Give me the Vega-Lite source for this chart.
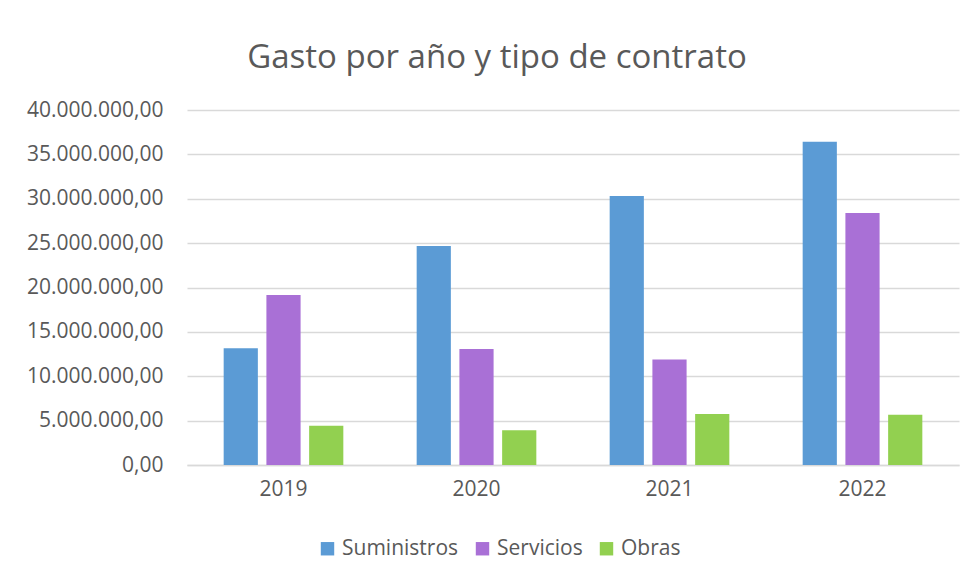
{
  "$schema": "https://vega.github.io/schema/vega-lite/v6.json",
  "width": 772,
  "height": 355,
  "autosize": {"type": "none"},
  "padding": {"left": 187, "top": 110, "right": 14, "bottom": 112},
  "background": "white",
  "config": {
    "locale": {"number": {"decimal": ",", "thousands": ".", "grouping": [3], "currency": ["", " €"]}},
    "font": "Open Sans",
    "view": {"stroke": null}
  },
  "title": {
    "text": "Gasto por año y tipo de contrato",
    "font": "Open Sans",
    "fontSize": 33,
    "fontWeight": "normal",
    "color": "#595959",
    "anchor": "middle",
    "frame": "group",
    "dx": -76,
    "offset": 24
  },
  "data": {
    "values": [
      {"year": "2019", "tipo": "Suministros", "gasto": 13150000},
      {"year": "2019", "tipo": "Servicios", "gasto": 19150000},
      {"year": "2019", "tipo": "Obras", "gasto": 4430000},
      {"year": "2020", "tipo": "Suministros", "gasto": 24680000},
      {"year": "2020", "tipo": "Servicios", "gasto": 13070000},
      {"year": "2020", "tipo": "Obras", "gasto": 3910000},
      {"year": "2021", "tipo": "Suministros", "gasto": 30310000},
      {"year": "2021", "tipo": "Servicios", "gasto": 11900000},
      {"year": "2021", "tipo": "Obras", "gasto": 5750000},
      {"year": "2022", "tipo": "Suministros", "gasto": 36430000},
      {"year": "2022", "tipo": "Servicios", "gasto": 28400000},
      {"year": "2022", "tipo": "Obras", "gasto": 5670000}
    ]
  },
  "mark": {"type": "bar"},
  "encoding": {
    "x": {
      "field": "year",
      "type": "nominal",
      "scale": {"paddingInner": 0.38, "paddingOuter": 0.19},
      "axis": {
        "title": null,
        "labelAngle": 0,
        "labelFontSize": 21,
        "labelColor": "#595959",
        "labelPadding": 13,
        "ticks": false,
        "domainColor": "#D9D9D9",
        "domainWidth": 1.5
      }
    },
    "xOffset": {
      "field": "tipo",
      "type": "nominal",
      "sort": ["Suministros", "Servicios", "Obras"],
      "scale": {"paddingInner": 0.2, "paddingOuter": 0}
    },
    "y": {
      "field": "gasto",
      "type": "quantitative",
      "scale": {"domain": [0, 40000000]},
      "axis": {
        "title": null,
        "format": ",.2f",
        "values": [0, 5000000, 10000000, 15000000, 20000000, 25000000, 30000000, 35000000, 40000000],
        "labelOverlap": false,
        "labelFontSize": 21,
        "labelColor": "#595959",
        "labelPadding": 24,
        "ticks": false,
        "domain": false,
        "gridColor": "#D9D9D9",
        "gridWidth": 1.5
      }
    },
    "color": {
      "field": "tipo",
      "type": "nominal",
      "sort": ["Suministros", "Servicios", "Obras"],
      "scale": {"domain": ["Suministros", "Servicios", "Obras"], "range": ["#5B9BD5", "#A970D6", "#92D050"]},
      "legend": {
        "title": null,
        "orient": "none",
        "direction": "horizontal",
        "legendX": 130,
        "legendY": 428,
        "symbolType": "square",
        "symbolSize": 180,
        "symbolStrokeWidth": 0,
        "labelFontSize": 21,
        "labelColor": "#595959",
        "labelOffset": 4,
        "columnPadding": 13
      }
    }
  }
}
